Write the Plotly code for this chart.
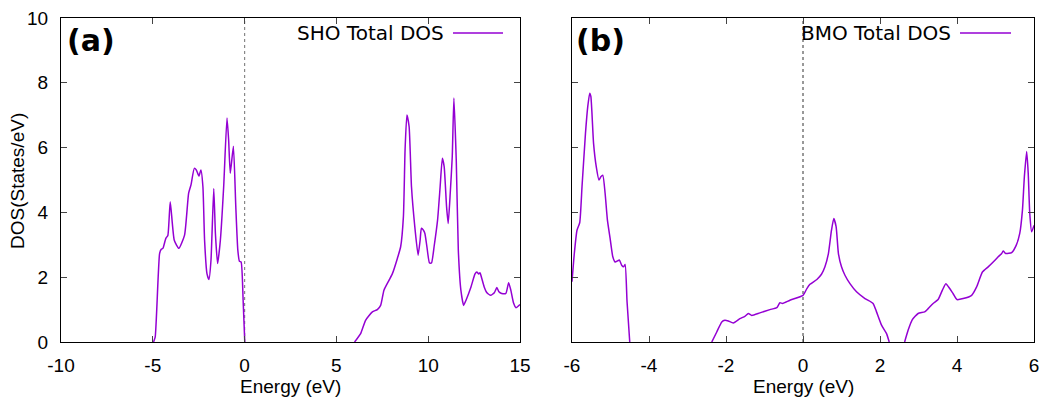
import plotly.graph_objects as go

# ---- Data ----
# Panel (a): SHO total DOS, valence band
sho_val_E = [-4.96, -4.87, -4.63, -4.54, -4.45, -4.29, -4.18, -4.05, -3.83, -3.58, -3.27,
             -3.05, -2.92, -2.74, -2.63, -2.49, -2.38, -2.27, -2.18, -2.05, -1.94, -1.83,
             -1.68, -1.59, -1.47, -1.32, -1.14, -0.96, -0.87, -0.78, -0.61, -0.48, -0.37,
             -0.28, -0.19, -0.08, 0.01]
sho_val_D = [0, 0.15, 2.73, 2.86, 2.89, 3.2, 3.29, 4.33, 3.14, 2.89, 3.3,
             4.59, 4.85, 5.36, 5.31, 5.12, 5.31, 4.79, 3.14, 2.11, 1.93, 2.53,
             4.74, 3.35, 2.42, 3.14, 4.79, 6.91, 6.24, 5.21, 6.04, 4.18, 2.84,
             2.49, 2.47, 1.29, 0]
# Panel (a): SHO total DOS, conduction band
sho_con_E = [5.99, 6.32, 6.59, 6.96, 7.23, 7.41, 7.59, 7.87, 8.05, 8.32, 8.5, 8.65, 8.74,
             8.84, 8.96, 9.09, 9.27, 9.45, 9.56, 9.63, 9.74, 9.82, 9.93, 10.07, 10.18,
             10.32, 10.51, 10.65, 10.77, 10.87, 11.0, 11.09, 11.2, 11.31, 11.4, 11.53,
             11.64, 11.78, 11.93, 12.06, 12.33, 12.55, 12.65, 12.75, 12.82, 12.9, 13.05,
             13.2, 13.4, 13.6, 13.74, 13.85, 14.0, 14.23, 14.38, 14.5, 14.65, 14.78, 15.0]
sho_con_D = [0, 0.26, 0.67, 0.93, 1.0, 1.13, 1.6, 1.91, 2.11, 2.58, 2.94, 3.87, 5.93,
             7.01, 6.65, 4.79, 3.56, 2.68, 3.14, 3.51, 3.45, 3.35, 2.94, 2.44, 2.44,
             2.94, 3.76, 4.79, 5.67, 5.41, 4.18, 3.66, 4.59, 5.72, 7.53, 5.57,
             2.84, 1.6, 1.13, 1.29, 1.7, 2.1, 2.16, 2.1, 2.14, 2.0, 1.7,
             1.52, 1.44, 1.52, 1.68, 1.55, 1.5, 1.5, 1.83, 1.6, 1.2, 1.06, 1.16]

# Panel (b): BMO total DOS, three segments
bmo_1_E = [-6.0, -5.94, -5.87, -5.8, -5.74, -5.65, -5.59, -5.54, -5.51, -5.44, -5.37,
           -5.3, -5.25, -5.2, -5.14, -5.08, -5.01, -4.94, -4.88, -4.82, -4.77, -4.71,
           -4.66, -4.62, -4.57, -4.5]
bmo_1_D = [1.86, 2.73, 3.45, 3.68, 4.79, 6.44, 7.27, 7.68, 7.58, 6.13, 5.41,
           5.0, 5.1, 5.15, 4.59, 3.76, 3.2, 2.63, 2.47, 2.5, 2.53, 2.37,
           2.32, 2.39, 1.24, 0]
bmo_2_E = [-2.37, -2.24, -2.11, -2.03, -1.94, -1.81, -1.64, -1.51, -1.42, -1.33, -1.12,
           -0.86, -0.68, -0.6, -0.53, -0.34, 0.0, 0.1, 0.18, 0.36, 0.48, 0.57, 0.66,
           0.74, 0.8, 0.86, 0.92, 1.0, 1.09, 1.22, 1.39, 1.61, 1.82, 1.91, 2.04, 2.17, 2.24]
bmo_2_D = [0, 0.31, 0.62, 0.67, 0.65, 0.59, 0.72, 0.79, 0.88, 0.82, 0.9,
           1.0, 1.06, 1.21, 1.19, 1.29, 1.44, 1.65, 1.78, 1.93, 2.09, 2.32, 2.73,
           3.45, 3.81, 3.56, 2.73, 2.32, 2.06, 1.8, 1.55, 1.34, 1.19, 0.93, 0.52, 0.26, 0]
bmo_3_E = [2.64, 2.73, 2.84, 2.99, 3.16, 3.25, 3.38, 3.51, 3.62, 3.71, 3.81, 3.9, 4.0,
           4.16, 4.38, 4.51, 4.66, 4.81, 4.94, 5.07, 5.16, 5.2, 5.27, 5.42, 5.54, 5.63,
           5.7, 5.75, 5.81, 5.85, 5.89, 5.94, 6.0]
bmo_3_D = [0, 0.36, 0.69, 0.88, 0.93, 1.03, 1.19, 1.31, 1.6, 1.8, 1.65, 1.49, 1.31,
           1.34, 1.44, 1.7, 2.16, 2.32, 2.47, 2.63, 2.73, 2.81, 2.73, 2.76, 2.99, 3.35,
           4.07, 5.1, 5.88, 5.21, 3.97, 3.4, 3.6]

x_ticks_a = [-10, -5, 0, 5, 10, 15]
x_ticklabels_a = ["-10", "-5", "0", "5", "10", "15"]
x_ticks_b = [-6, -4, -2, 0, 2, 4, 6]
x_ticklabels_b = ["-6", "-4", "-2", "0", "2", "4", "6"]
y_ticks = [0, 2, 4, 6, 8, 10]
y_ticklabels = ["0", "2", "4", "6", "8", "10"]

legend_a = "SHO Total DOS"
legend_b = "BMO Total DOS"
panel_a = "(a)"
panel_b = "(b)"
x_title = "Energy (eV)"
y_title = "DOS(States/eV)"

# ---- Styling ----
W, H = 1045, 401
PURPLE = "#9400D3"
TICKFONT = dict(family="Liberation Sans, Arial, sans-serif", size=19, color="black")
TITLEFONT = dict(family="Liberation Sans, Arial, sans-serif", size=19, color="black")
LEGFONT = dict(family="DejaVu Sans, Verdana, sans-serif", size=20, color="black")
PANELFONT = dict(family="DejaVu Sans, Verdana, sans-serif", size=30, color="black")


def px(x):
    return x / W


def py(y):
    return (H - y) / H


XA = [px(61), px(520)]
XB = [px(572), px(1034)]
YD = [py(342), py(18)]

fig = go.Figure()

line_style = dict(color=PURPLE, width=1.5, shape="spline", smoothing=0.5)
fig.add_trace(go.Scatter(x=sho_val_E + [None] + sho_con_E,
                         y=sho_val_D + [None] + sho_con_D,
                         mode="lines", line=line_style, connectgaps=False,
                         name=legend_a, xaxis="x", yaxis="y", showlegend=False))
fig.add_trace(go.Scatter(x=bmo_1_E + [None] + bmo_2_E + [None] + bmo_3_E,
                         y=bmo_1_D + [None] + bmo_2_D + [None] + bmo_3_D,
                         mode="lines", line=line_style, connectgaps=False,
                         name=legend_b, xaxis="x2", yaxis="y2", showlegend=False))

axis_common = dict(showline=True, linecolor="black", linewidth=1, mirror="ticks",
                   ticks="inside", ticklen=6, tickcolor="#444", tickwidth=1,
                   showgrid=False, zeroline=False, tickfont=TICKFONT, automargin=False)

fig.update_layout(
    template="none",
    width=W, height=H, autosize=False,
    margin=dict(l=0, r=0, t=0, b=0, pad=0),
    paper_bgcolor="white", plot_bgcolor="white",
    showlegend=False,
    xaxis=dict(domain=XA, range=[-10, 15], tickvals=x_ticks_a, ticktext=x_ticklabels_a,
               anchor="y", ticklabelstandoff=6, **axis_common),
    yaxis=dict(domain=YD, range=[0, 10], tickvals=y_ticks, ticktext=y_ticklabels,
               anchor="x", ticklabelstandoff=8, **axis_common),
    xaxis2=dict(domain=XB, range=[-6, 6], tickvals=x_ticks_b, ticktext=x_ticklabels_b,
                anchor="y2", ticklabelstandoff=6, **axis_common),
    yaxis2=dict(domain=YD, range=[0, 10], tickvals=y_ticks, anchor="x2",
                showticklabels=False, **axis_common),
)

# Fermi level dotted lines
fig.add_shape(type="line", xref="x", yref="y", x0=0, x1=0, y0=0, y1=10,
              line=dict(color="#888888", width=1.2, dash="dot"), layer="below")
fig.add_shape(type="line", xref="x2", yref="y2", x0=0, x1=0, y0=0, y1=10,
              line=dict(color="#333333", width=1, dash="dot"), layer="below")

# gnuplot-style keys: text then line sample
fig.add_annotation(text=legend_a, xref="paper", yref="paper", x=px(446), y=py(33),
                   xanchor="right", yanchor="middle", showarrow=False, font=LEGFONT)
fig.add_shape(type="line", xref="paper", yref="paper", x0=px(453), x1=px(503),
              y0=py(33), y1=py(33), line=dict(color=PURPLE, width=1.5))
fig.add_annotation(text=legend_b, xref="paper", yref="paper", x=px(953), y=py(33),
                   xanchor="right", yanchor="middle", showarrow=False, font=LEGFONT)
fig.add_shape(type="line", xref="paper", yref="paper", x0=px(960), x1=px(1011),
              y0=py(33), y1=py(33), line=dict(color=PURPLE, width=1.5))

# panel labels
fig.add_annotation(text="<b>" + panel_a + "</b>", xref="paper", yref="paper", x=px(65), y=py(40),
                   xanchor="left", yanchor="middle", showarrow=False, font=PANELFONT)
fig.add_annotation(text="<b>" + panel_b + "</b>", xref="paper", yref="paper", x=px(574), y=py(40),
                   xanchor="left", yanchor="middle", showarrow=False, font=PANELFONT)

# axis titles
fig.add_annotation(text=x_title, xref="paper", yref="paper", x=px(290.5), y=py(386),
                   xanchor="center", yanchor="middle", showarrow=False, font=TITLEFONT)
fig.add_annotation(text=x_title, xref="paper", yref="paper", x=px(803), y=py(386),
                   xanchor="center", yanchor="middle", showarrow=False, font=TITLEFONT)
fig.add_annotation(text=y_title, xref="paper", yref="paper", x=px(17), y=py(181),
                   xanchor="center", yanchor="middle", textangle=-90, showarrow=False,
                   font=TITLEFONT)

fig.write_html("out.html")
